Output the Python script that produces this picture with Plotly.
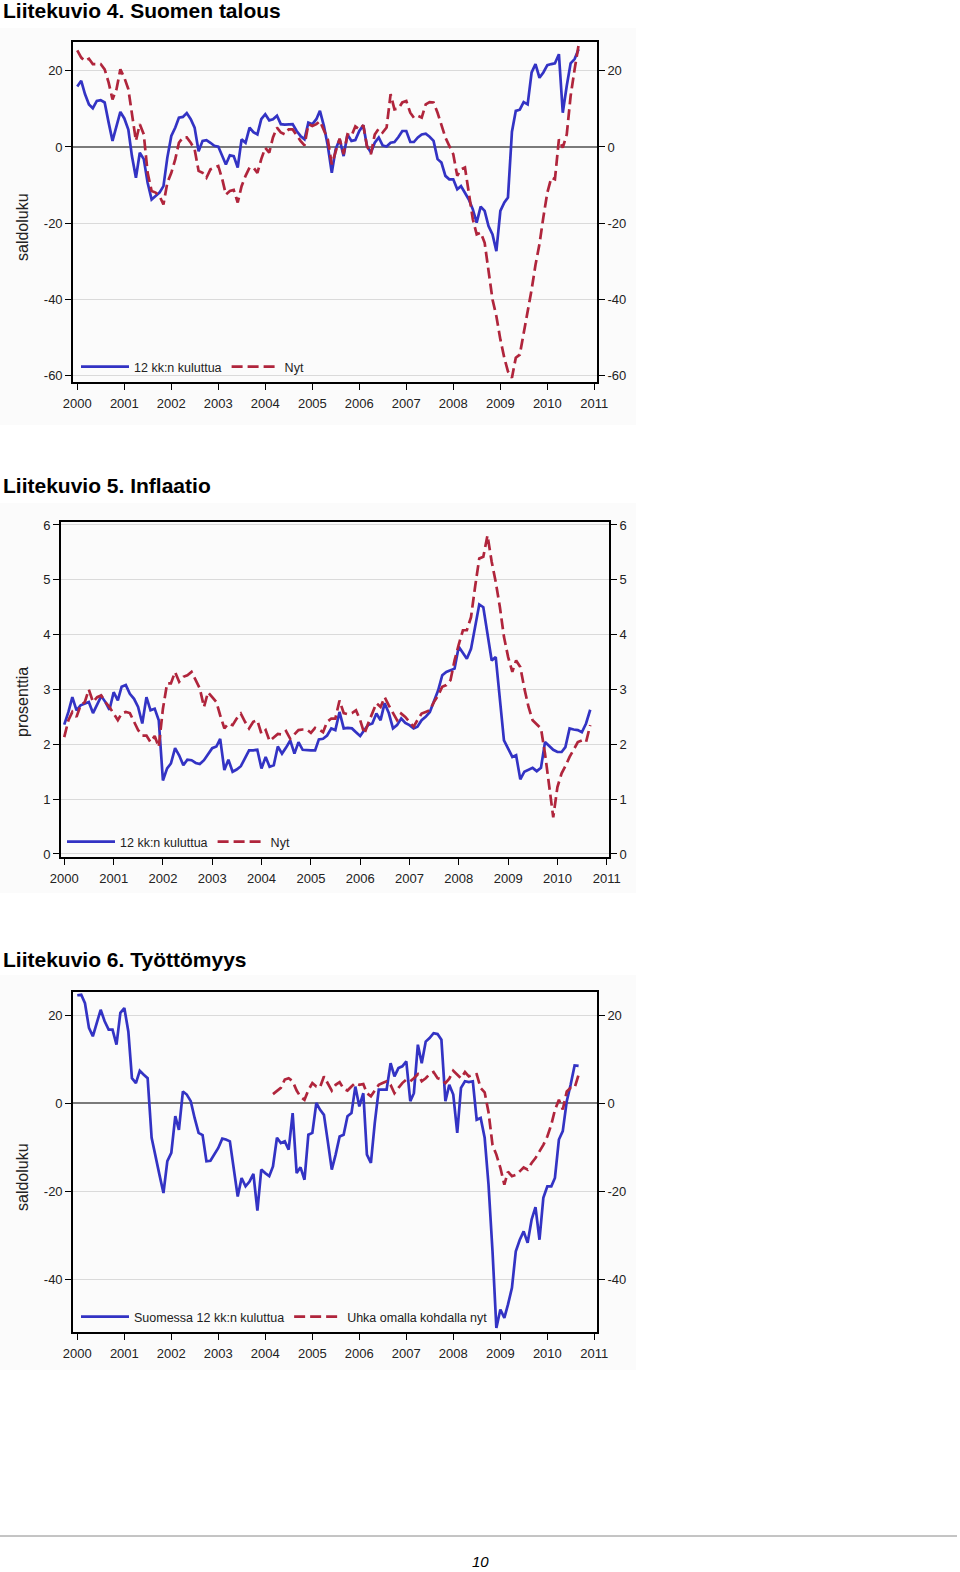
import pandas as pd
import plotly.graph_objects as go

W, H = 960, 1572

vuodet = [str(v) for v in range(2000, 2012)]

# Liitekuvio 4. Suomen talous (saldoluku), kuukausittain 2000-01 ... 2010-09
talous_12kk = [
    15.9, 17.4, 13.9, 11.2, 10.2, 12.1, 12.3, 11.7, 6.4, 1.6, 5.5, 9.2,
    7.5, 4.6, -2.4, -8.1, -1.5, -3.2, -9.4, -13.8, -12.9, -12.0, -10.3, -2.8,
    2.9, 5.1, 7.7, 7.9, 8.9, 7.3, 5.1, -1.1, 1.6, 1.8, 1.1, 0.3,
    0.1, -2.4, -4.6, -2.2, -2.4, -5.4, 2.0, 1.1, 5.1, 3.9, 3.3, 7.3,
    8.6, 7.0, 7.3, 8.2, 6.0, 5.9, 6.0, 6.0, 4.2, 2.9, 2.0, 6.4,
    6.0, 7.3, 9.5, 5.5, 0.3, -6.8, -0.6, 2.0, -2.4, 3.3, 1.6, 1.8,
    4.2, 5.7, 0.3, -1.5, 1.1, 2.5, 0.4, 0.1, 1.1, 1.3, 2.6, 4.2,
    4.2, 1.3, 1.3, 2.5, 3.3, 3.5, 2.7, 1.6, -3.2, -4.1, -7.6, -8.5,
    -8.5, -11.1, -10.3, -12.0, -13.8, -16.4, -19.9, -15.7, -16.8, -20.8, -23.0, -27.4,
    -16.8, -14.6, -13.3, 4.0, 9.5, 9.8, 11.8, 11.2, 19.6, 21.8, 18.2, 19.6,
    21.5, 21.8, 22.0, 24.4, 9.0, 16.1, 22.0, 23.1, 25.7,
]
talous_nyt = [
    25.4, 23.5, 22.6, 23.2, 21.8, 21.8, 21.8, 20.4, 16.9, 12.5, 15.2, 20.4,
    18.2, 15.2, 8.2, 1.6, 6.0, 3.3, -6.8, -11.6, -12.0, -12.9, -15.1, -9.4,
    -6.8, -3.2, 1.1, 2.5, 2.5, 1.1, -0.6, -6.3, -6.8, -8.1, -5.9, -5.4,
    -5.0, -8.5, -12.5, -11.6, -11.3, -14.6, -10.3, -7.6, -5.4, -5.4, -6.8, -3.2,
    -0.2, -1.5, 2.5, 5.1, 3.8, 3.3, 4.6, 4.6, 2.9, 1.6, 0.4, 6.0,
    5.5, 6.0, 6.8, 4.2, 2.0, -4.6, -1.0, 2.2, -1.9, 3.3, 2.9, 5.4,
    4.6, 5.7, 0.3, -1.9, 3.3, 4.8, 3.8, 5.1, 13.9, 9.9, 10.1, 11.7,
    12.1, 9.0, 7.7, 8.2, 7.7, 11.2, 11.8, 11.7, 9.0, 5.5, 2.5, 0.3,
    -1.9, -7.6, -5.9, -5.4, -12.0, -19.0, -23.0, -22.5, -25.2, -33.1, -40.1, -44.5,
    -50.6, -55.5, -59.0, -60.7, -55.4, -54.6, -49.0, -44.0, -37.5, -31.0, -25.5, -18.5,
    -12.0, -8.1, -8.5, 2.0, -0.2, 3.3, 13.4, 20.4, 26.8,
]

# Liitekuvio 5. Inflaatio (prosenttia)
inflaatio_12kk = [
    2.36, 2.59, 2.86, 2.62, 2.71, 2.74, 2.77, 2.57, 2.74, 2.88, 2.77, 2.63,
    2.95, 2.80, 3.05, 3.08, 2.92, 2.83, 2.68, 2.38, 2.86, 2.62, 2.65, 2.44,
    1.34, 1.56, 1.65, 1.93, 1.80, 1.62, 1.72, 1.71, 1.66, 1.64, 1.71, 1.83,
    1.93, 1.96, 2.10, 1.53, 1.72, 1.50, 1.54, 1.60, 1.76, 1.89, 1.89, 1.90,
    1.56, 1.77, 1.59, 1.62, 1.96, 1.83, 1.94, 2.07, 1.83, 2.04, 1.90, 1.89,
    1.89, 1.89, 2.09, 2.10, 2.16, 2.29, 2.26, 2.59, 2.29, 2.30, 2.29, 2.22,
    2.15, 2.26, 2.35, 2.38, 2.56, 2.44, 2.75, 2.57, 2.29, 2.35, 2.47, 2.39,
    2.35, 2.29, 2.32, 2.44, 2.50, 2.59, 2.77, 2.98, 3.26, 3.32, 3.35, 3.38,
    3.78, 3.67, 3.56, 3.74, 4.14, 4.55, 4.50, 3.99, 3.53, 3.59, 2.86, 2.07,
    1.92, 1.77, 1.80, 1.36, 1.50, 1.54, 1.57, 1.51, 1.57, 2.04, 1.96, 1.90,
    1.86, 1.86, 1.95, 2.29, 2.27, 2.26, 2.22, 2.38, 2.63,
]
inflaatio_nyt = [
    2.13, 2.44, 2.59, 2.50, 2.71, 2.77, 3.00, 2.77, 2.86, 2.89, 2.77, 2.68,
    2.56, 2.44, 2.56, 2.59, 2.57, 2.41, 2.26, 2.16, 2.16, 2.04, 2.15, 1.95,
    2.65, 3.11, 3.11, 3.32, 3.14, 3.23, 3.26, 3.32, 3.18, 3.02, 2.68, 2.95,
    2.86, 2.77, 2.53, 2.29, 2.38, 2.35, 2.47, 2.56, 2.41, 2.29, 2.41, 2.44,
    2.19, 2.26, 2.06, 2.13, 2.19, 2.18, 2.24, 2.10, 2.19, 2.26, 2.27, 2.27,
    2.21, 2.30, 2.27, 2.22, 2.41, 2.47, 2.47, 2.80, 2.57, 2.55, 2.57, 2.62,
    2.44, 2.19, 2.38, 2.56, 2.75, 2.68, 2.86, 2.71, 2.57, 2.44, 2.56, 2.50,
    2.41, 2.32, 2.44, 2.56, 2.59, 2.62, 2.77, 2.89, 3.05, 3.08, 3.17, 3.53,
    3.82, 4.08, 4.08, 4.32, 4.87, 5.39, 5.42, 5.81, 5.33, 4.96, 4.50, 3.96,
    3.59, 3.32, 3.53, 3.41, 3.02, 2.68, 2.44, 2.36, 2.29, 1.83, 1.22, 0.67,
    1.22, 1.47, 1.60, 1.77, 1.90, 2.04, 2.07, 2.04, 2.35,
]

# Liitekuvio 6. Työttömyys (saldoluku)
tyott_12kk = [
    24.5, 24.6, 22.7, 17.1, 15.2, 18.2, 21.2, 18.6, 16.7, 16.7, 13.3, 20.5,
    21.6, 16.3, 5.7, 4.6, 7.4, 6.5, 5.7, -7.8, -12.3, -16.2, -20.3, -13.1,
    -11.2, -2.9, -6.0, 2.7, 2.0, 0.5, -3.3, -6.7, -7.2, -13.1, -13.0, -11.6,
    -10.1, -8.0, -8.2, -8.6, -15.4, -21.1, -16.9, -18.8, -17.7, -16.0, -24.3, -15.0,
    -15.8, -16.5, -14.3, -7.8, -9.0, -8.6, -10.5, -2.2, -15.8, -14.5, -17.3, -7.1,
    -6.7, 0.1, -1.4, -2.6, -8.6, -15.0, -11.6, -7.5, -7.1, -2.9, -2.2, 3.8,
    -0.7, 2.3, -11.6, -13.5, -4.5, 3.1, 3.1, 3.1, 9.1, 6.1, 8.0, 8.4,
    9.5, 0.5, 2.3, 13.3, 9.1, 14.0, 14.8, 15.9, 15.7, 14.4, 0.5, 4.2,
    2.0, -6.7, 3.5, 5.0, 4.8, 5.0, -3.7, -3.3, -7.8, -18.4, -33.5, -50.9,
    -46.7, -48.6, -45.6, -41.8, -33.5, -30.9, -29.0, -31.6, -26.3, -23.5, -30.9, -21.4,
    -18.8, -18.8, -16.9, -8.2, -6.3, 0.5, 4.2, 8.6, 8.5,
]
# alkaa 2004-03
tyott_uhka = [
    2.1, 2.8, 3.5, 5.4, 5.7, 5.0, 2.9, 1.5, 0.8, 3.0,
    4.6, 3.8, 3.6, 6.1, 4.6, 2.9, 4.2, 4.8, 3.3, 2.9, 3.8, 4.6,
    4.2, 4.4, 2.3, 1.6, 2.9, 4.2, 4.6, 5.0, 4.2, 2.3, 3.5, 4.6,
    5.4, 5.0, 5.7, 6.6, 5.0, 5.7, 6.6, 7.1, 5.7, 5.4, 4.6, 5.6,
    7.4, 6.5, 5.7, 7.1, 6.1, 6.5, 6.6, 3.5, 2.5, -2.0, -9.4, -11.6,
    -14.6, -18.4, -15.5, -16.5, -16.2, -15.4, -14.5, -15.0, -13.5, -12.4, -10.9, -9.4,
    -7.5, -4.8, -1.5, 0.8, -1.4, 2.7, 3.5, 3.5, 6.5,
]

saldo_ticks = [-60, -40, -20, 0, 20]
saldo_ticks_6 = [-40, -20, 0, 20]
prosentti_ticks = [0, 1, 2, 3, 4, 5, 6]

BLUE = "#3333c4"
RED = "#b0253c"
FONT = "Liberation Sans, Arial, sans-serif"
TXT = "#222222"


def kuukaudet(alku, n):
    return pd.date_range(alku, periods=n, freq="MS")


def fx(px):
    return px / W


def fy(py):
    return 1 - py / H


paneelit = [
    dict(
        otsikko="Liitekuvio 4. Suomen talous", otsikko_y=10,
        frame=(73, 597, 42, 382), xrange=["1999-11-29", "2011-01-22"],
        yrange=[-61.8, 27.6], yticks=saldo_ticks, zero=True,
        ytitle="saldoluku", ytitle_y=227, bg=(28, 425),
        sarjat=[("12 kk:n kuluttua", "2000-01-01", talous_12kk),
                ("Nyt", "2000-01-01", talous_nyt)],
        legend_xy=(76, 367),
    ),
    dict(
        otsikko="Liitekuvio 5. Inflaatio", otsikko_y=485,
        frame=(61, 609, 521.7, 856.7), xrange=["1999-12-08", "2011-01-18"],
        yrange=[-0.05, 6.06], yticks=prosentti_ticks, zero=False,
        ytitle="prosenttia", ytitle_y=702, bg=(503, 893),
        sarjat=[("12 kk:n kuluttua", "2000-01-01", inflaatio_12kk),
                ("Nyt", "2000-01-01", inflaatio_nyt)],
        legend_xy=(62, 842),
    ),
    dict(
        otsikko="Liitekuvio 6. Työttömyys", otsikko_y=959,
        frame=(73, 597, 991.7, 1332), xrange=["1999-11-29", "2011-01-22"],
        yrange=[-51.8, 25.3], yticks=saldo_ticks_6, zero=True,
        ytitle="saldoluku", ytitle_y=1177, bg=(975, 1370),
        sarjat=[("Suomessa 12 kk:n kuluttua", "2000-01-01", tyott_12kk),
                ("Uhka omalla kohdalla nyt", "2004-03-01", tyott_uhka)],
        legend_xy=(76, 1317),
    ),
]

fig = go.Figure()
annotations = []
shapes = []
layout = {}

for i, p in enumerate(paneelit):
    x0, x1, y0, y1 = p["frame"]
    xa = "xaxis" if i == 0 else f"xaxis{i + 1}"
    xref = "x" if i == 0 else f"x{i + 1}"
    yl_n, yr_n = 2 * i + 1, 2 * i + 2
    yl = "yaxis" if yl_n == 1 else f"yaxis{yl_n}"
    yr = f"yaxis{yr_n}"
    ylref = "y" if yl_n == 1 else f"y{yl_n}"
    yrref = f"y{yr_n}"
    leg = "legend" if i == 0 else f"legend{i + 1}"

    layout[xa] = dict(
        domain=[fx(x0), fx(x1)], anchor=ylref, type="date", range=p["xrange"],
        tickvals=[f"{v}-01-01" for v in vuodet], ticktext=vuodet,
        ticks="outside", ticklen=6, tickwidth=1.2, tickcolor="black",
        showline=True, linecolor="black", linewidth=1.6, mirror=True,
        showgrid=False, zeroline=False, ticklabelstandoff=3,
        tickfont=dict(family=FONT, size=13, color=TXT),
    )
    yaxis_common = dict(
        domain=[fy(y1), fy(y0)], anchor=xref, range=p["yrange"],
        tickvals=p["yticks"], ticktext=[str(t) for t in p["yticks"]],
        ticks="outside", ticklen=6, tickwidth=1.2,
        tickcolor="black", showline=True, linecolor="black", linewidth=1.6,
        tickfont=dict(family=FONT, size=13, color=TXT),
    )
    layout[yl] = dict(
        yaxis_common, side="left", showgrid=True, gridcolor="#dadada", gridwidth=1,
        zeroline=p["zero"], zerolinecolor="#7a7a7a", zerolinewidth=1.5,
    )
    layout[yr] = dict(
        yaxis_common, side="right", overlaying=ylref, showgrid=False, zeroline=False,
    )

    tyylit = [dict(color=BLUE, width=2.7), dict(color=RED, width=2.7, dash="11px,5px")]
    for (nimi, alku, arvot), viiva, yref in zip(p["sarjat"], tyylit, [ylref, yrref]):
        fig.add_trace(go.Scatter(
            x=kuukaudet(alku, len(arvot)), y=arvot, mode="lines", name=nimi,
            line=viiva, xaxis=xref, yaxis=yref, legend=leg,
        ))

    lx, ly = p["legend_xy"]
    layout[leg] = dict(
        orientation="h", x=fx(lx), y=fy(ly), xanchor="left", yanchor="middle",
        bgcolor="rgba(0,0,0,0)", font=dict(family=FONT, size=12.5, color=TXT),
        traceorder="normal", itemwidth=48,
    )

    annotations.append(dict(
        text=f"<b>{p['otsikko']}</b>", x=fx(1), y=fy(p["otsikko_y"]),
        xref="paper", yref="paper", xanchor="left", yanchor="middle",
        showarrow=False, font=dict(family=FONT, size=21, color="black"),
    ))
    annotations.append(dict(
        text=p["ytitle"], x=fx(22), y=fy(p["ytitle_y"]), xref="paper", yref="paper",
        xanchor="center", yanchor="middle", textangle=-90, showarrow=False,
        font=dict(family=FONT, size=16, color=TXT),
    ))
    b0, b1 = p["bg"]
    shapes.append(dict(
        type="rect", xref="paper", yref="paper", x0=0, x1=fx(636),
        y0=fy(b1), y1=fy(b0), fillcolor="#fbfbfb", line=dict(width=0), layer="below",
    ))

# sivun alaosa
shapes.append(dict(
    type="line", xref="paper", yref="paper", x0=0, x1=fx(957),
    y0=fy(1536), y1=fy(1536), line=dict(color="#8a8a8a", width=1),
))
annotations.append(dict(
    text="<i>10</i>", x=fx(480), y=fy(1561), xref="paper", yref="paper",
    xanchor="center", yanchor="middle", showarrow=False,
    font=dict(family=FONT, size=15, color="black"),
))

fig.update_layout(
    width=W, height=H, margin=dict(l=0, r=0, t=0, b=0, autoexpand=False),
    paper_bgcolor="white", plot_bgcolor="white",
    annotations=annotations, shapes=shapes, **layout,
)

# sivun oletusmarginaali pois, jotta kuva alkaa ikkunan kulmasta
fig.write_html(
    "out.html",
    config={"displayModeBar": False},
    post_script="document.body.style.margin = '0px';",
)
